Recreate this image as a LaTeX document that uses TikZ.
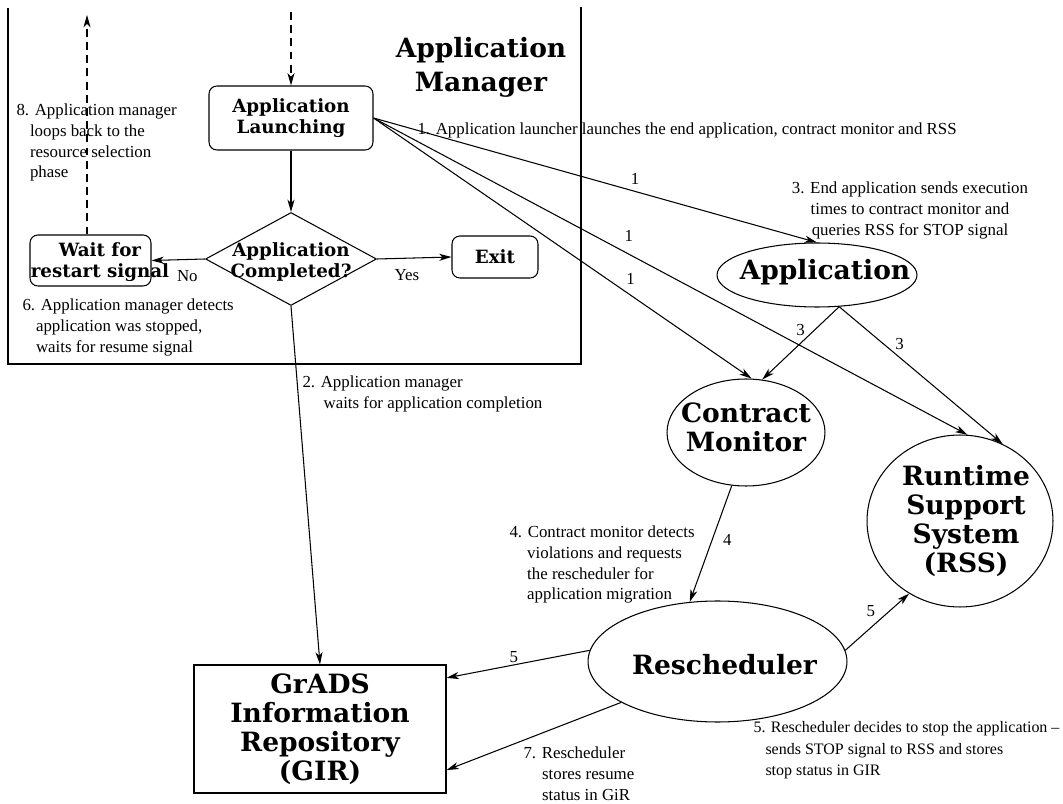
\documentclass[tikz,border=0pt]{standalone}
\usepackage{fontspec}
\setmainfont{Liberation Serif}
\newfontfamily\headfont{DejaVu Serif}
\usetikzlibrary{arrows.meta,shapes.geometric}

\tikzset{
  note/.style={font=\fontsize{9.6}{11.9}\selectfont, inner sep=0pt, align=left},
  numlbl/.style={font=\fontsize{9.6}{11.9}\selectfont, inner sep=1pt},
  smallbf/.style={font=\headfont\bfseries\fontsize{10.4}{11.5}\selectfont, align=center},
  bigbf/.style={font=\headfont\bfseries\fontsize{15.1}{16.4}\selectfont, align=center},
  rbox/.style={draw, rounded corners=4.5pt},
  blob/.style={draw, ellipse, inner sep=0pt},
  arr/.style={-{Stealth[length=7pt,width=4pt,inset=2pt]}},
  dasharr/.style={arr, dash pattern=on 4.5pt off 3pt},
}

\begin{document}
\begin{tikzpicture}[x=0.02cm, y=-0.02cm, line width=0.6pt]
    % Fix the page to the size of the figure
    \useasboundingbox (0,0) rectangle (1063,804);

    % Application manager frame (open at the top)
    \draw (8,8) -- (8,364) -- (581,364) -- (581,7);
    \node[bigbf, font=\headfont\bfseries\fontsize{15.1}{19.3}\selectfont] (title) at (481,67) {Application\\Manager};

    % Boxes inside the manager
    \node[rbox, smallbf, minimum width=3.28cm, minimum height=1.28cm] (launch) at (291,118) {Application\\Launching};
    \node[draw, diamond, minimum width=3.42cm, minimum height=1.86cm, inner sep=0pt,
          label={[smallbf, yshift=-0.06cm]center:Application\\Completed?}] (decide) at (291,259) {};
    \node[rbox, smallbf, minimum width=1.72cm, minimum height=0.84cm] (exit) at (495,257) {Exit};
    \node[rbox, minimum width=2.42cm, minimum height=1.02cm,
          label={[smallbf, xshift=0.19cm, yshift=-0.03cm]center:Wait for\\restart signal}] (waitbox) at (90.5,260.5) {};

    % The other components
    \node[blob, minimum width=4cm, minimum height=1.28cm,
          label={[bigbf, xshift=0.16cm, yshift=0.06cm]center:Application}] (app) at (817,275) {};
    \node[blob, minimum width=3.16cm, minimum height=2.14cm,
          label={[bigbf, yshift=0.1cm]center:Contract\\Monitor}] (cm) at (746,432.5) {};
    \node[blob, minimum width=3.72cm, minimum height=3.44cm,
          label={[bigbf, xshift=0.12cm]center:Runtime\\Support\\System\\(RSS)}] (rss) at (960,521) {};
    \node[blob, minimum width=5.18cm, minimum height=2.42cm,
          label={[bigbf, xshift=0.14cm, yshift=-0.07cm]center:Rescheduler}] (resch) at (717.5,661.5) {};
    \node[draw, bigbf, minimum width=5.04cm, minimum height=2.56cm, inner sep=0pt] (gir) at (320,729) {GrADS\\Information\\Repository\\(GIR)};

    % Dashed entry and loop back
    \coordinate (entry) at (291,12);
    \coordinate (loopend) at (87,15);
    \draw[dasharr] (entry) -- (launch.north);
    \draw[dasharr] (loopend |- waitbox.north) -- (loopend);

    % Flow inside the manager
    \draw[arr] (launch.south) -- (decide.north);
    \draw[arr] (decide.west) -- node[numlbl, pos=.33, below=5pt] {No} (waitbox.east);
    \draw[arr] (decide.east) -- node[numlbl, pos=.4, below=5pt] {Yes} (exit.west);
    \draw[arr] (decide.south) -- (gir.north);

    % Launcher starts the three parts (1)
    \draw[arr] (launch.east) -- node[numlbl, pos=.59, above=2.5pt] {1} (app.north);
    \draw[arr] (launch.east) -- node[numlbl, pos=.43, above=6pt] {1} (rss.85);
    \draw[arr] (launch.east) -- node[numlbl, pos=.68, above=5pt] {1} (cm.84);

    % Application talks to monitor and RSS (3)
    \draw[arr] (app.-55) -- node[numlbl, pos=.5, above=3pt] {3} (cm.73);
    \draw[arr] (app.-55) -- node[numlbl, pos=.37, above=3pt] {3} (rss.61);

    % Monitor calls the rescheduler (4)
    \draw[arr] (cm.-105) -- node[numlbl, pos=.47, right=5pt] {4} (resch.115);

    % Rescheduler writes to GIR and RSS (5, 7)
    \draw[arr] (resch.175) -- node[numlbl, pos=.53, above] {5} (gir.22);
    \draw[arr] (resch.-157) -- (gir.-18);
    \draw[arr] (resch.5) -- node[numlbl, pos=.4, above=5pt] {5} (rss.-125);

    % Step notes
    \node[note, anchor=west] (note1) at (417,130) {1. Application launcher launches the end application, contract monitor and RSS};
    \node[note, anchor=north west] (note2) at (302,375) {2. Application manager\\\hspace*{1.25em}waits for application completion};
    \node[note, align=center, anchor=north] (note3) at (910,181) {3. End application sends execution\\times to contract monitor and\\queries RSS for STOP signal};
    \node[note, anchor=north west] (note4) at (509,525) {4. Contract monitor detects\\\hspace*{1.05em}violations and requests\\\hspace*{1.05em}the rescheduler for\\\hspace*{1.05em}application migration};
    \node[note, font=\fontsize{9.1}{12.2}\selectfont, anchor=north west] (note5) at (753,721) {5. Rescheduler decides to stop the application --\\\hspace*{.75em}sends STOP signal to RSS and stores\\\hspace*{.75em}stop status in GIR};
    \node[note, anchor=north west] (note6) at (22,298) {6. Application manager detects\\\hspace*{.8em}application was stopped,\\\hspace*{.8em}waits for resume signal};
    \node[note, anchor=north west] (note7) at (523,746) {7. Rescheduler\\\hspace*{1.1em}stores resume\\\hspace*{1.1em}status in GiR};
    \node[note, anchor=north west] (note8) at (16,103) {8. Application manager\\\hspace*{.8em}loops back to the\\\hspace*{.8em}resource selection\\\hspace*{.8em}phase};
\end{tikzpicture}
\end{document}
